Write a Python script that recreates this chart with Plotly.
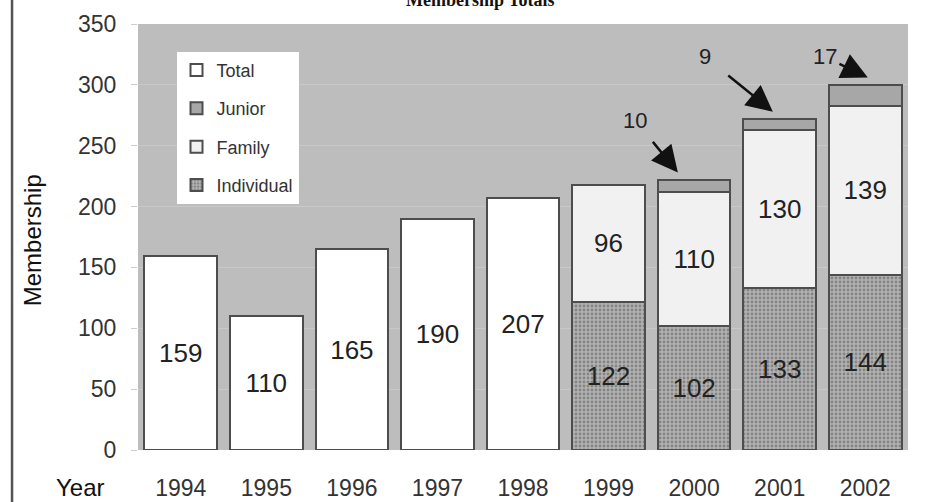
import plotly.graph_objects as go

# Membership by year; totals only before 1999, then broken down by type
years = ["1994", "1995", "1996", "1997", "1998", "1999", "2000", "2001", "2002"]

total_years = ["1994", "1995", "1996", "1997", "1998"]
total_values = [159, 110, 165, 190, 207]

split_years = ["1999", "2000", "2001", "2002"]
individual_values = [122, 102, 133, 144]
family_values = [96, 110, 130, 139]

junior_years = ["2000", "2001", "2002"]
junior_values = [10, 9, 17]

EDGE = "#4d4d4d"
FONT = "Liberation Sans, Arial, sans-serif"

fig = go.Figure()

fig.add_trace(go.Bar(
    name="Individual", x=split_years, y=individual_values,
    text=individual_values, textposition="inside", insidetextanchor="middle",
    textfont=dict(size=26, color="#222"),
    marker=dict(color="#a9a9a9", line=dict(color=EDGE, width=2),
                pattern=dict(shape=".", size=4, solidity=0.4,
                             fgcolor="#555555", bgcolor="#b2b2b2")),
    legendrank=4,
))
fig.add_trace(go.Bar(
    name="Family", x=split_years, y=family_values,
    text=family_values, textposition="inside", insidetextanchor="middle",
    textfont=dict(size=26, color="#222"),
    marker=dict(color="#f1f1f1", line=dict(color=EDGE, width=2)),
    legendrank=3,
))
fig.add_trace(go.Bar(
    name="Junior", x=junior_years, y=junior_values,
    marker=dict(color="#a7a7a7", line=dict(color=EDGE, width=2)),
    legendrank=2,
))
fig.add_trace(go.Bar(
    name="Total", x=total_years, y=total_values,
    text=total_values, textposition="inside", insidetextanchor="middle",
    textfont=dict(size=26, color="#222"),
    marker=dict(color="#ffffff", line=dict(color=EDGE, width=2)),
    legendrank=1,
))

# Callouts for the thin Junior segments, pointing at the top of each stack
callout_offsets = {"2000": (-0.19, -0.50, 43), "2001": (-0.08, -0.79, 45), "2002": (0.03, -0.50, 17)}
callout_standoff = {"2000": 10, "2001": 20, "2002": 1}
annotations = []
for yr, jv in zip(junior_years, junior_values):
    i = split_years.index(yr)
    stack_top = individual_values[i] + family_values[i] + jv
    xi = years.index(yr)
    dx_tip, dx_txt, dy_txt = callout_offsets[yr]
    annotations.append(dict(
        x=xi + dx_tip, y=stack_top + 6, xref="x", yref="y",
        ax=xi + dx_tip + dx_txt, ay=stack_top + 6 + dy_txt, axref="x", ayref="y",
        text=str(jv), showarrow=True, arrowhead=2, arrowsize=2.1, arrowwidth=2.5,
        arrowcolor="#111", startstandoff=callout_standoff[yr],
        font=dict(family=FONT, size=22, color="#222"),
    ))

annotations.append(dict(
    text="Year", x=-0.075, y=-0.089, xref="paper", yref="paper",
    xanchor="center", yanchor="middle",
    showarrow=False, font=dict(family=FONT, size=24, color="#111"),
))
annotations.append(dict(
    text="Membership", x=-0.136, y=0.493, xref="paper", yref="paper",
    xanchor="center", yanchor="middle",
    textangle=-90, showarrow=False, font=dict(family=FONT, size=24, color="#111"),
))

fig.update_layout(
    width=951, height=502,
    margin=dict(l=138, r=43, t=24, b=52),
    paper_bgcolor="#ffffff", plot_bgcolor="#bdbdbd",
    barmode="stack", bargap=0.15,
    font=dict(family=FONT, color="#333"),
    title=dict(text="<b>Membership Totals</b>", x=0.505, xanchor="center",
               y=1.0, yanchor="middle",
               font=dict(family="Liberation Serif, serif", size=18, color="#111")),
    showlegend=True,
    legend=dict(x=0.05, y=0.935, xanchor="left", yanchor="top",
                bgcolor="#ffffff", borderwidth=0,
                font=dict(family=FONT, size=18, color="#333"),
                traceorder="grouped", tracegroupgap=12, itemwidth=30),
    annotations=annotations,
    shapes=[dict(type="line", xref="paper", yref="paper",
                 x0=-0.1636, x1=-0.1636, y0=-0.2, y1=1.2,
                 line=dict(color="#555", width=2.5))],
    xaxis=dict(categoryorder="array", categoryarray=years, type="category",
               range=[-0.5, 8.5], showgrid=False, ticks="outside", ticklen=0,
               ticklabelstandoff=17, automargin=False,
               tickfont=dict(family=FONT, size=23, color="#333"),
               showline=False, zeroline=False),
    yaxis=dict(range=[0, 350], dtick=50, showgrid=True, gridcolor="#c8c8c8",
               ticks="outside", ticklen=6, tickcolor="#cccccc",
               ticklabelstandoff=10, zeroline=False, showline=False,
               automargin=False,
               tickfont=dict(family=FONT, size=23, color="#333")),
)

# Give every category its own legend group so the gap spreads the entries
for tr in fig.data:
    tr.legendgroup = tr.name

fig.write_html("out.html")
